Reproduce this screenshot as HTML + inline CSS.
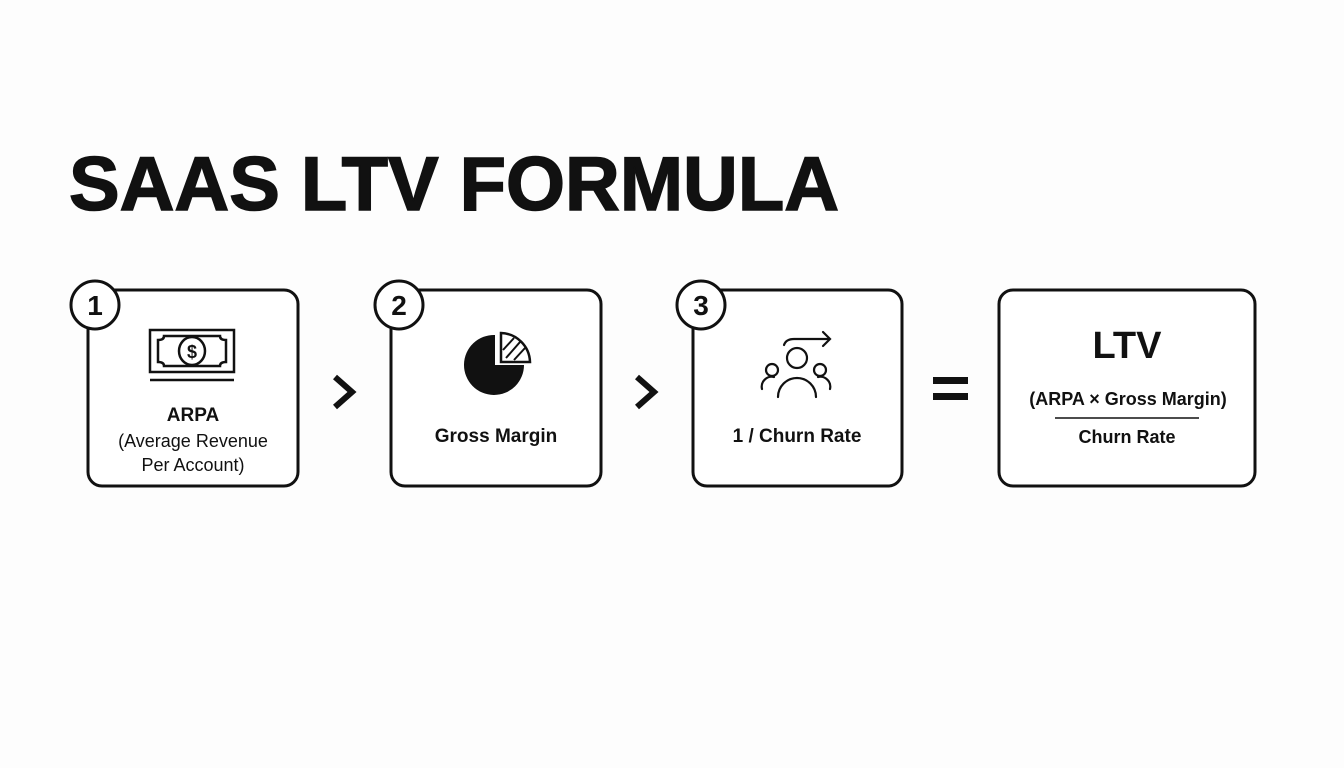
<!DOCTYPE html>
<html><head><meta charset="utf-8"><style>
html,body{margin:0;padding:0;background:#fdfdfd;}
svg{display:block;font-family:"Liberation Sans",sans-serif;}
</style></head><body>
<svg width="1344" height="768" viewBox="0 0 1344 768" xmlns="http://www.w3.org/2000/svg">
<rect width="1344" height="768" fill="#fdfdfd"/>
<text x="69" y="210" font-size="76" font-weight="bold" textLength="770" lengthAdjust="spacingAndGlyphs" fill="#111" stroke="#111" stroke-width="1.5">SAAS LTV FORMULA</text>
<g fill="#fff" stroke="#111" stroke-width="3">
<rect x="88" y="290" width="210" height="196" rx="14"/>
<rect x="391" y="290" width="210" height="196" rx="14"/>
<rect x="693" y="290" width="209" height="196" rx="14"/>
<rect x="999" y="290" width="256" height="196" rx="14"/>
<circle cx="95" cy="305" r="24"/>
<circle cx="399" cy="305" r="24"/>
<circle cx="701" cy="305" r="24"/>
</g>
<g font-size="28" font-weight="bold" text-anchor="middle" fill="#111">
<text x="95" y="315">1</text><text x="399" y="315">2</text><text x="701" y="315">3</text>
</g>
<g fill="none" stroke="#111" stroke-width="2.5">
<rect x="150" y="330" width="84" height="42"/>
<path d="M158 340 q6 0 6-4 h56 q0 4 6 4 v22 q-6 0-6 4 h-56 q0-4-6-4z"/>
<ellipse cx="192" cy="351" rx="13" ry="14"/>
<line x1="150" y1="380" x2="234" y2="380"/>
</g>
<text x="192" y="358" font-size="18" font-weight="bold" text-anchor="middle" fill="#111">$</text>
<path d="M495 335 A30 30 0 1 0 524 365 L495 365Z" fill="#111"/>
<path d="M501 333 A30 30 0 0 1 530 362 L501 362Z" fill="#fff" stroke="#111" stroke-width="2.5"/>
<g stroke="#111" stroke-width="2"><line x1="503" y1="350" x2="514" y2="338"/><line x1="506" y1="358" x2="520" y2="342"/><line x1="514" y1="360" x2="525" y2="348"/></g>
<g fill="none" stroke="#111" stroke-width="2.2" stroke-linecap="round">
<circle cx="797" cy="358" r="10"/>
<path d="M778 397 a19 19 0 0 1 38 0"/>
<circle cx="772" cy="370" r="6"/>
<path d="M762 389 a10 10 0 0 1 12-12"/>
<circle cx="820" cy="370" r="6"/>
<path d="M830 389 a10 10 0 0 0-12-12"/>
<path d="M784 345 q2-6 10-6 h35"/>
<path d="M823 332 l7 7-7 7"/>
</g>
<g fill="#111" text-anchor="middle">
<text x="193" y="421" font-size="19" font-weight="bold">ARPA</text>
<text x="193" y="447" font-size="18">(Average Revenue</text>
<text x="193" y="471" font-size="18">Per Account)</text>
<text x="496" y="442" font-size="19" font-weight="bold">Gross Margin</text>
<text x="797" y="442" font-size="19" font-weight="bold">1 / Churn Rate</text>
<text x="1127" y="358" font-size="38" font-weight="bold">LTV</text>
<text x="1128" y="405" font-size="18" font-weight="bold">(ARPA × Gross Margin)</text>
<text x="1127" y="443" font-size="18" font-weight="bold">Churn Rate</text>
</g>
<line x1="1055" y1="418" x2="1199" y2="418" stroke="#111" stroke-width="1.5"/>
<g fill="none" stroke="#111" stroke-width="6">
<path d="M335 377 l17 15-17 15"/>
<path d="M637 377 l17 15-17 15"/>
</g>
<rect x="933" y="377" width="35" height="7" fill="#111"/>
<rect x="933" y="393" width="35" height="7" fill="#111"/>
</svg>
</body></html>
